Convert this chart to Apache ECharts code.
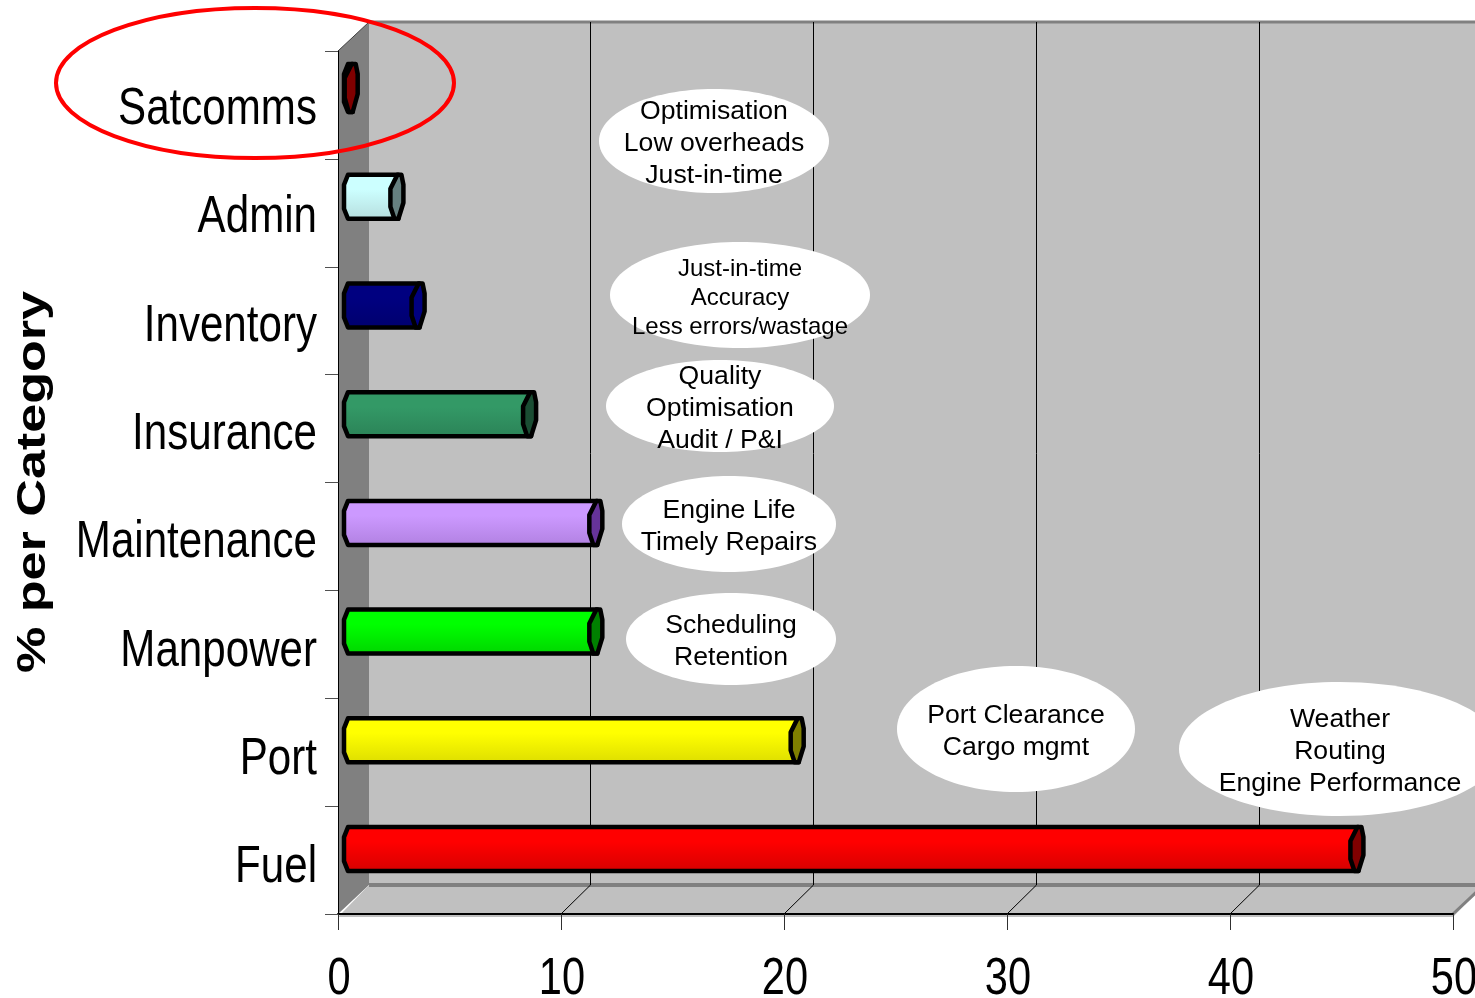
<!DOCTYPE html>
<html><head><meta charset="utf-8">
<style>html,body{margin:0;padding:0;background:#fff}#c{width:1475px;height:998px}</style>
<script src="https://cdn.jsdelivr.net/npm/echarts@6/dist/echarts.min.js"></script>
</head><body><div id="c"></div>
<script>
const categories = ['Fuel','Port','Manpower','Maintenance','Insurance','Inventory','Admin','Satcomms'];
const values = [45.4, 20.3, 11.27, 11.27, 8.3, 3.3, 2.35, 0.3];
const xTicks = [0, 10, 20, 30, 40, 50];
const topColors = ['#ff0000','#ffff00','#00ff00','#cc99ff','#339966','#000080','#ccffff','#800000'];
const lowColors = ['#d40000','#dcdc00','#00d400','#b080e0','#2b8257','#00006d','#b5dcdc','#800000'];
const capColors = ['#800000','#808000','#008000','#663399','#1a4d33','#000080','#668080','#800000'];
const notes = [
  {lines:['Optimisation','Low overheads','Just-in-time'], cx:714, cy:141, rx:115, ry:52, fs:26.6, lh:32},
  {lines:['Just-in-time','Accuracy','Less errors/wastage'], cx:740, cy:295, rx:130, ry:53, fs:24, lh:29},
  {lines:['Quality','Optimisation','Audit / P&I'], cx:720, cy:406, rx:114, ry:46, fs:26.6, lh:32},
  {lines:['Engine Life','Timely Repairs'], cx:729, cy:524, rx:107, ry:48, fs:26.6, lh:32},
  {lines:['Scheduling','Retention'], cx:731, cy:639, rx:105, ry:46, fs:26.6, lh:32},
  {lines:['Port Clearance','Cargo mgmt'], cx:1016, cy:729, rx:119, ry:63, fs:26.6, lh:32},
  {lines:['Weather','Routing','Engine Performance'], cx:1340, cy:749, rx:161, ry:67, fs:26.6, lh:32}
];
const DX = 31, DY = 29;
const SANS = '"Liberation Sans", Arial, sans-serif';

function poly(points, style, z2){ return {type:'polygon', shape:{points}, style, z2:z2||0}; }

function renderWalls(params, api){
  const c = params.coordSys, x0=c.x, y0=c.y, x1=c.x+c.width, y1=c.y+c.height;
  const kids = [
    poly([[x0+DX,y0-DY],[x1+DX+40,y0-DY],[x1+DX+40,y1-DY],[x0+DX,y1-DY]],{fill:'#c0c0c0'}),
    poly([[x0,y0],[x0+DX,y0-DY],[x0+DX,y1-DY],[x0,y1]],{fill:'#808080'}),
    poly([[x0,y1+3],[x0+DX,y1-DY],[x1+DX,y1-DY],[x1,y1+3]],{fill:'#c0c0c0'}),
    {type:'line',shape:{x1:x0+DX,y1:y0-DY,x2:x1+DX+40,y2:y0-DY},style:{stroke:'#808080',lineWidth:3}},
    {type:'line',shape:{x1:x0+DX,y1:y1-DY,x2:x1+DX+40,y2:y1-DY},style:{stroke:'#808080',lineWidth:4}},
    {type:'line',shape:{x1:x1,y1:y1,x2:x1+DX,y2:y1-DY},style:{stroke:'#808080',lineWidth:3}},
    {type:'line',shape:{x1:x0,y1:y0,x2:x0+DX,y2:y0-DY},style:{stroke:'#404040',lineWidth:1}}
  ];
  return {type:'group',children:kids};
}
function renderGrid(params, api){
  const c = params.coordSys;
  const px = Math.round(api.coord([api.value(0), 0])[0]);
  if (px <= c.x + 1 || px >= c.x + c.width - 1) return {type:'group',children:[]};
  const y0=c.y, y1=c.y+c.height, gx = px+29.5;
  return {type:'group',children:[
    {type:'line',shape:{x1:gx,y1:y0-DY,x2:gx,y2:y1-DY},style:{stroke:'#000',lineWidth:1}},
    {type:'line',shape:{x1:px,y1:y1,x2:gx,y2:y1-DY},style:{stroke:'#000',lineWidth:1}}
  ]};
}
function renderBar(params, api){
  const i = api.value(1), v = api.value(0);
  const base = api.coord([0, i]);
  const cy = base[1] - 11 - i*0.85;
  const x0 = base[0] + 6, xe = api.coord([v, i])[0] + 6;
  const h = v < 1 ? 24 : 22, t = cy-h, b = cy+h;
  const grad = {type:'linear',x:0,y:0,x2:0,y2:1,colorStops:[
    {offset:0,color:topColors[i]},{offset:0.35,color:topColors[i]},{offset:1,color:lowColors[i]}]};
  const stroke = {stroke:'#000',lineWidth:4.5,lineJoin:'round'};
  const body = poly([[x0+4,t],[xe+2,t],[xe+2,b],[x0+4,b],[x0,b-10],[x0,t+10]],
    Object.assign({fill:grad},stroke));
  const cap = poly([[xe+1,t],[xe+5,t],[xe+7,t+10],[xe+7,cy+6],[xe+2,b],[xe-2,b],[xe-6,cy+10],[xe-6,t+14]],
    Object.assign({fill:capColors[i]},stroke));
  return {type:'group',children:[body,cap]};
}
function renderYLabel(params, api){
  const i = api.value(1);
  const p = api.coord([0, i]);
  return {type:'text',x:p[0]-21,y:p[1]+8-i*0.5,scaleX:0.81,
    style:{text:categories[i],fontFamily:SANS,fontSize:52,fill:'#000',align:'right',verticalAlign:'middle'}};
}
function renderXLabel(params, api){
  const c = params.coordSys;
  const t = api.value(0);
  const p = api.coord([t, 0]);
  return {type:'text',x:p[0]+1,y:c.y+c.height+66,scaleX:0.8,
    style:{text:String(t),fontFamily:SANS,fontSize:52,fill:'#000',align:'center',verticalAlign:'middle'}};
}

const graphics = [];
notes.forEach(n=>{
  graphics.push({type:'ellipse',z:20,shape:{cx:n.cx,cy:n.cy,rx:n.rx,ry:n.ry},style:{fill:'#fff'}});
  graphics.push({type:'text',z:21,x:n.cx,y:n.cy+3,
    style:{text:n.lines.join('\n'),font:n.fs+'px '+SANS,fill:'#000',align:'center',verticalAlign:'middle',lineHeight:n.lh}});
});
graphics.push({type:'ellipse',z:22,shape:{cx:255,cy:83,rx:199,ry:75},style:{fill:'none',stroke:'#ff0000',lineWidth:4}});
graphics.push({type:'text',z:21,x:34,y:482,rotation:Math.PI/2,scaleX:1.27,
  style:{text:'% per Category',font:'bold 41px '+SANS,fill:'#000',align:'center',verticalAlign:'middle'}});

const chart = echarts.init(document.getElementById('c'),null,{renderer:'canvas'});
chart.setOption({
  animation:false,
  backgroundColor:'#fff',
  grid:{left:338,top:51,width:1115,height:863,containLabel:false,outerBoundsMode:'none'},
  xAxis:{type:'value',min:0,max:50,interval:10,z:2.5,
    axisLine:{show:true,lineStyle:{color:'#000',width:2}},
    axisTick:{show:true,length:16,lineStyle:{color:'#303030',width:1}},
    splitLine:{show:false},
    axisLabel:{show:false}},
  yAxis:{type:'category',data:categories,z:2.5,
    axisLine:{show:true,onZero:false,lineStyle:{color:'#000',width:1}},
    axisTick:{show:true,length:13,lineStyle:{color:'#505050',width:1}},
    splitLine:{show:false},
    axisLabel:{show:false}},
  graphic:graphics,
  series:[
    {type:'custom',name:'walls',z:1,silent:true,data:[[0]],renderItem:renderWalls,encode:{x:0}},
    {type:'custom',name:'grid',z:2,silent:true,data:xTicks.map(t=>[t]),renderItem:renderGrid,encode:{x:0}},
    {type:'custom',name:'% per Category',z:3,silent:true,data:values.map((v,i)=>[v,i]),renderItem:renderBar,encode:{x:0,y:1}},
    {type:'custom',name:'category labels',z:4,silent:true,data:categories.map((n,i)=>[0,i]),renderItem:renderYLabel,encode:{x:0,y:1}},
    {type:'custom',name:'value labels',z:4,silent:true,data:xTicks.map(t=>[t]),renderItem:renderXLabel,encode:{x:0}}
  ]
});
</script></body></html>
